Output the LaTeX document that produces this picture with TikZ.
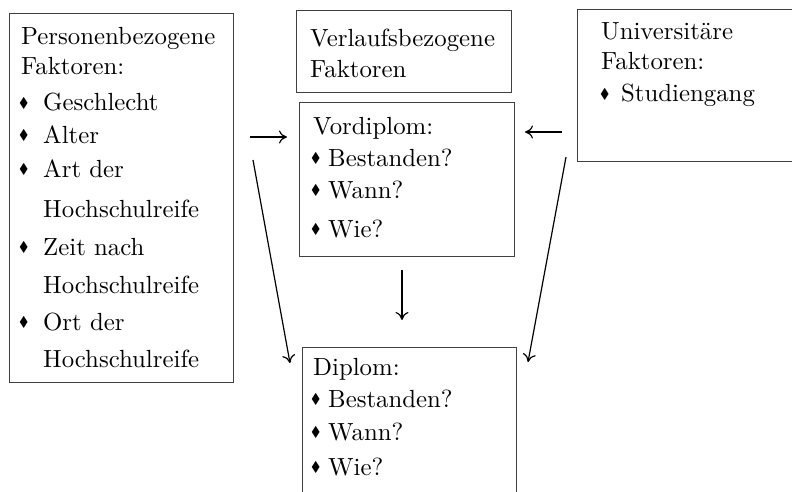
\documentclass[tikz,border=0pt]{standalone}
\usepackage{amssymb}
\usepackage{fontspec}
\setmainfont{lmroman10-regular.otf}
\usetikzlibrary{arrows.meta}
\newcommand\bul{\raisebox{3.6pt}{\fontsize{14}{14}\selectfont$\blacklozenge$}}
\newcommand\itm[2]{\makebox[#1][l]{\bul}#2}
\begin{document}
\begin{tikzpicture}[x=1pt,y=-1pt,
  box/.style={draw=black!75, line width=0.9pt, anchor=north west, inner sep=0pt},
  openbox/.style={draw=none, anchor=north west, inner sep=0pt},
  edge/.style={draw=black!75, line width=0.9pt},
  txt/.style={anchor=base west, inner sep=0pt, font=\fontsize{24.8}{30}\selectfont},
  arr/.style={-{To[length=8pt,width=13pt]}, line width=1.2pt}]
\useasboundingbox (0,0) rectangle (792,492);
% boxes
\node[box, minimum width=224pt, minimum height=369pt] (pbox) at (9,13) {};
\node[box, minimum width=215pt, minimum height=82pt] (vbox) at (296,10) {};
\node[box, minimum width=215pt, minimum height=154pt] (vdbox) at (299,102) {};
\node[openbox, minimum width=214pt, minimum height=145pt] (dbox) at (302,347) {};
\draw[edge] (dbox.south west) -- (dbox.north west) -- (dbox.north east) -- (dbox.south east);
\node[openbox, minimum width=215pt, minimum height=152pt] (ubox) at (577,9) {};
\draw[edge] (ubox.north east) -- (ubox.north west) -- (ubox.south west) -- (ubox.south east);
% left box text
\node[txt] (p1) at (21,45) {Personenbezogene};
\node[txt] (p2) at (21,75) {Faktoren:};
\node[txt] (p3) at (19,111) {\itm{24pt}{Geschlecht}};
\node[txt] (p4) at (19,143) {\itm{24pt}{Alter}};
\node[txt] (p5) at (19,177) {\itm{24pt}{Art der}};
\node[txt] (p6) at (43,217) {Hochschulreife};
\node[txt] (p7) at (19,255) {\itm{24pt}{Zeit nach}};
\node[txt] (p8) at (43,293) {Hochschulreife};
\node[txt] (p9) at (19,330) {\itm{24pt}{Ort der}};
\node[txt] (p10) at (43,367) {Hochschulreife};
% Verlaufsbezogene
\node[txt] (v1) at (310,47) {Verlaufsbezogene};
\node[txt] (v2) at (310,78) {Faktoren};
% Vordiplom
\node[txt] (vd1) at (313,135) {Vordiplom:};
\node[txt] (vd2) at (311,166) {\itm{17pt}{Bestanden?}};
\node[txt] (vd3) at (311,198) {\itm{17pt}{Wann?}};
\node[txt] (vd4) at (311,237) {\itm{17pt}{Wie?}};
% Diplom
\node[txt] (d1) at (313,375) {Diplom:};
\node[txt] (d2) at (311,407) {\itm{17pt}{Bestanden?}};
\node[txt] (d3) at (311,440) {\itm{17pt}{Wann?}};
\node[txt] (d4) at (311,475) {\itm{17pt}{Wie?}};
% Universitaere
\node[txt] (u1) at (601,40) {Universitäre};
\node[txt] (u2) at (601,70) {Faktoren:};
\node[txt] (u3) at (600,102) {\itm{21pt}{Studiengang}};
% connectors
\coordinate (a1s) at (250,137); \coordinate (a1e) at (287,137);
\coordinate (a2s) at (562,132); \coordinate (a2e) at (525,132);
\coordinate (a3s) at (402,270); \coordinate (a3e) at (402,320);
\coordinate (a4s) at (253,160); \coordinate (a4e) at (290,363);
\coordinate (a5s) at (566,157); \coordinate (a5e) at (528,362);
\draw[arr] (a1s) -- (a1e);
\draw[arr] (a2s) -- (a2e);
\draw[arr] (a3s) -- (a3e);
\draw[arr] (a4s) -- (a4e);
\draw[arr] (a5s) -- (a5e);
\end{tikzpicture}
\end{document}
